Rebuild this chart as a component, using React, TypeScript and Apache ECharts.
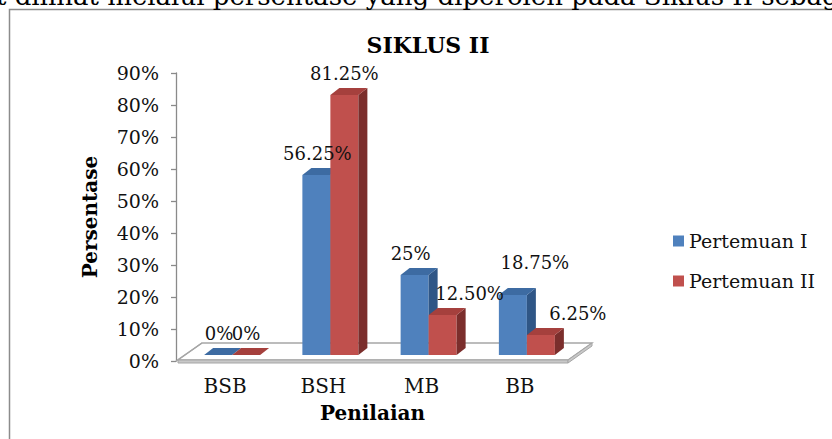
import React, { useEffect, useRef } from "react";
import * as echarts from "echarts";

// ---- data ----
const categories = ["BSB", "BSH", "MB", "BB"];
const seriesNames = ["Pertemuan I", "Pertemuan II"];
const pertemuan1 = [0, 56.25, 25, 18.75];
const pertemuan2 = [0, 81.25, 12.5, 6.25];
const yMax = 90;
const yInterval = 10;

const docLine = "t dilihat melalui persentase yang diperoleh pada Siklus II sebagai berikut:";
const chartTitle = "SIKLUS II";
const yAxisTitle = "Persentase";
const xAxisTitle = "Penilaian";

// ---- layout / style ----
const FONT = "'DejaVu Serif', serif";
const BAR_W = 28;
const DEPTH_X = 9;
const DEPTH_Y = 7;
const LIFT = 6;
const labelNudge = [
  [[1, 0], [1, 0], [-4, 0], [22, -11]],
  [[0, 0], [0, 0], [27, 0], [37, 0]],
];
const colors = [
  { front: "#4F81BD", top: "#3D6BA2", side: "#2F5686" },
  { front: "#C0504D", top: "#A5403D", side: "#7B2E2C" },
];

const fmt = (v: number) => (Number.isInteger(v) ? `${v}%` : `${v.toFixed(2)}%`);

function makeBarRenderer(si: number) {
  return (params: any, api: any) => {
    const ci = api.value(0);
    const v = api.value(1);
    const top = api.coord([ci, v]);
    const base = api.coord([ci, 0]);
    const x0 = base[0] - 21 + BAR_W * si;
    const x1 = x0 + BAR_W;
    const yT = top[1] - LIFT;
    const yB = base[1] - LIFT;
    const c = colors[si];
    const children: any[] = [];
    if (yB - yT > 0.5) {
      children.push({
        type: "rect",
        shape: { x: x0, y: yT, width: BAR_W, height: yB - yT },
        style: { fill: c.front },
      });
      children.push({
        type: "polygon",
        shape: {
          points: [
            [x1, yT],
            [x1 + DEPTH_X, yT - DEPTH_Y],
            [x1 + DEPTH_X, yB - DEPTH_Y],
            [x1, yB],
          ],
        },
        style: { fill: c.side },
      });
    }
    children.push({
      type: "polygon",
      shape: {
        points: [
          [x0, yT],
          [x1, yT],
          [x1 + DEPTH_X, yT - DEPTH_Y],
          [x0 + DEPTH_X, yT - DEPTH_Y],
        ],
      },
      style: { fill: c.top },
    });
    const nudge = labelNudge[si][params.dataIndex];
    children.push({
      type: "text",
      z2: 100,
      x: x0 + BAR_W / 2 + nudge[0],
      y: yT - 22 + nudge[1],
      style: {
        text: fmt(v),
        align: "center",
        verticalAlign: "middle",
        fontFamily: FONT,
        fontSize: 18,
        fill: "#111",
      },
    });
    return { type: "group", children };
  };
}

function renderFloor(params: any, api: any) {
  const cs = params.coordSys;
  const fl = [cs.x + 2, cs.y + cs.height - 1];
  const fr = [cs.x + cs.width - 1, cs.y + cs.height - 1];
  const dx = 24;
  const dy = 17;
  const th = 3;
  const stroke = "#A6A6A6";
  return {
    type: "group",
    children: [
      {
        type: "polygon",
        shape: { points: [fl, fr, [fr[0] + dx, fr[1] - dy], [fl[0] + dx, fl[1] - dy]] },
        style: { fill: "#FFFFFF", stroke, lineWidth: 1.3 },
      },
      {
        type: "polygon",
        shape: { points: [fl, fr, [fr[0], fr[1] + th], [fl[0], fl[1] + th]] },
        style: { fill: "#C8C8C8", stroke, lineWidth: 1 },
      },
      {
        type: "polygon",
        shape: {
          points: [fr, [fr[0] + dx, fr[1] - dy], [fr[0] + dx, fr[1] - dy + th], [fr[0], fr[1] + th]],
        },
        style: { fill: "#C8C8C8", stroke, lineWidth: 1 },
      },
      {
        type: "line",
        shape: { x1: cs.x, y1: cs.y + cs.height, x2: fl[0] + dx, y2: fl[1] - dy },
        style: { stroke, lineWidth: 1.3 },
      },
    ],
  };
}

export default function App() {
  const ref = useRef<HTMLDivElement>(null);
  useEffect(() => {
    if (!ref.current) return;
    const chart = echarts.init(ref.current, undefined, { renderer: "svg" });
    chart.setOption({
      animation: false,
      backgroundColor: "#ffffff",
      grid: { left: 176, top: 73, width: 393, height: 288, containLabel: false },
      legend: {
        data: seriesNames,
        orient: "vertical",
        left: 668,
        top: 226,
        itemWidth: 11,
        itemHeight: 11,
        itemGap: 20,
        icon: "rect",
        textStyle: { fontFamily: FONT, fontSize: 19, color: "#111", lineHeight: 20 },
      },
      xAxis: {
        type: "category",
        data: categories,
        axisLine: { show: false },
        axisTick: { show: false },
        axisLabel: { fontFamily: FONT, fontSize: 20, color: "#111", margin: 15 },
        name: xAxisTitle,
        nameLocation: "middle",
        nameGap: 42,
        nameTextStyle: { fontFamily: FONT, fontSize: 20, fontWeight: "bold", color: "#000" },
      },
      yAxis: {
        type: "value",
        min: 0,
        max: yMax,
        interval: yInterval,
        axisLine: { show: true, lineStyle: { color: "#8A8A8A", width: 1.3 } },
        axisTick: { show: true, length: 5, lineStyle: { color: "#8A8A8A", width: 1.3 } },
        axisLabel: { formatter: "{value}%", fontFamily: FONT, fontSize: 19, color: "#111", margin: 17 },
        splitLine: { show: false },
        name: yAxisTitle,
        nameLocation: "middle",
        nameGap: 76,
        nameRotate: 90,
        nameTextStyle: { fontFamily: FONT, fontSize: 20, fontWeight: "bold", color: "#000" },
      },
      graphic: [
        {
          type: "rect",
          z: -1,
          shape: { x: 9.5, y: 9.5, width: 900, height: 500 },
          style: { fill: "none", stroke: "#8C8C8C", lineWidth: 1.5 },
        },
        {
          type: "text",
          x: -4,
          y: -4,
          style: {
            text: docLine,
            fontFamily: FONT,
            fontSize: 26,
            fill: "#000",
            textAlign: "left",
            textVerticalAlign: "middle",
          },
        },
        {
          type: "text",
          x: 428,
          y: 45,
          style: {
            text: chartTitle,
            fontFamily: FONT,
            fontSize: 22,
            fontWeight: "bold",
            fill: "#000",
            textAlign: "center",
            textVerticalAlign: "middle",
          },
        },
      ],
      series: [
        {
          type: "custom",
          name: "floor",
          silent: true,
          renderItem: renderFloor,
          data: [[0, 0]],
          encode: { x: 0, y: 1 },
        },
        {
          type: "custom",
          name: seriesNames[0],
          itemStyle: { color: colors[0].front },
          renderItem: makeBarRenderer(0),
          data: pertemuan1.map((v, i) => [i, v]),
          encode: { x: 0, y: 1 },
        },
        {
          type: "custom",
          name: seriesNames[1],
          itemStyle: { color: colors[1].front },
          renderItem: makeBarRenderer(1),
          data: pertemuan2.map((v, i) => [i, v]),
          encode: { x: 0, y: 1 },
        },
      ],
    });
    return () => chart.dispose();
  }, []);
  return (
    <div
      ref={ref}
      style={{ position: "absolute", left: 0, top: 0, width: 832, height: 439, background: "#fff" }}
    />
  );
}
